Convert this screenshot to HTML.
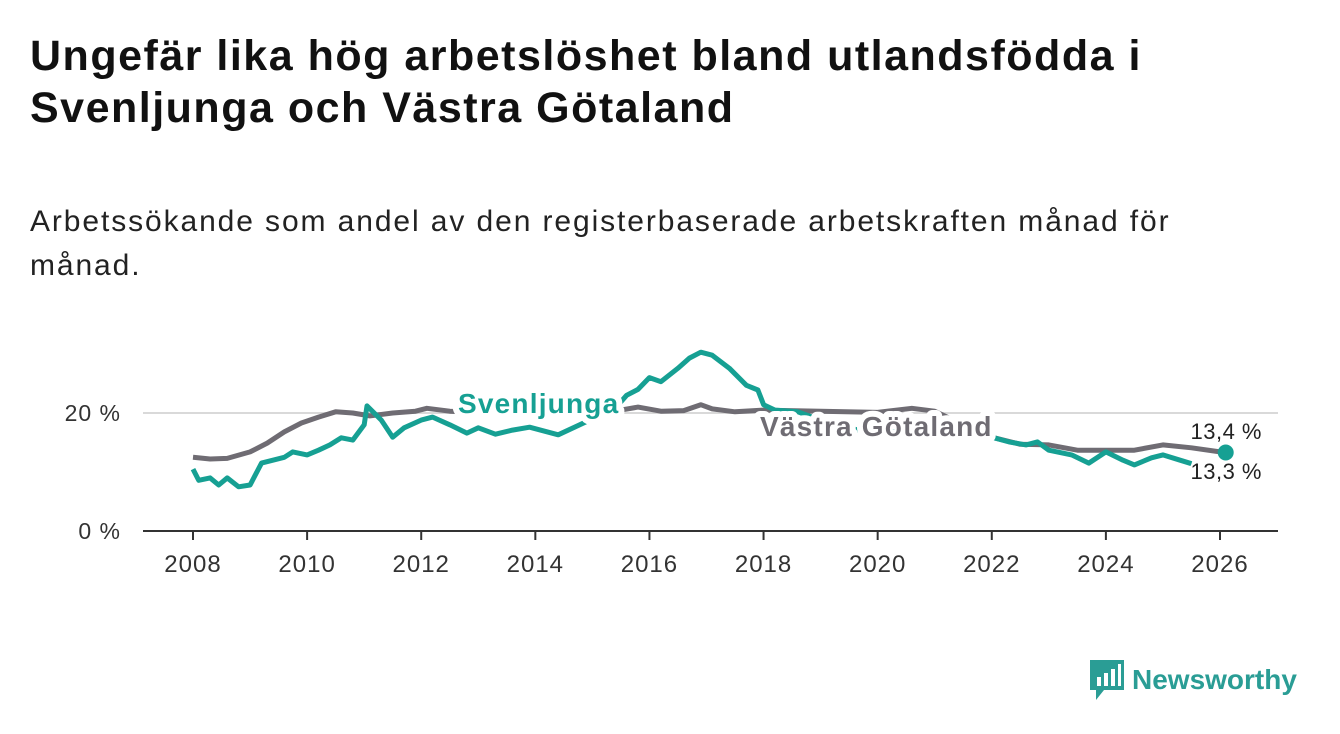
<!DOCTYPE html>
<html><head><meta charset="utf-8">
<style>
body{margin:0;background:#fff;width:1340px;height:734px;overflow:hidden;font-family:"Liberation Sans",sans-serif;}
h1{position:absolute;left:30px;top:30px;margin:0;font-size:43px;letter-spacing:1.5px;line-height:52px;font-weight:bold;color:#111;}
p.sub{position:absolute;left:30px;top:200px;margin:0;font-size:30px;letter-spacing:1.9px;line-height:44px;color:#222;}
svg{position:absolute;left:0;top:0;}
.logo{position:absolute;left:1090px;top:660px;display:flex;align-items:center;gap:8px;color:#2a9d95;font-size:28px;font-weight:bold;}
</style></head><body>
<h1>Ungefär lika hög arbetslöshet bland utlandsfödda i<br>Svenljunga och Västra Götaland</h1>
<p class="sub">Arbetssökande som andel av den registerbaserade arbetskraften månad för<br>månad.</p>
<svg id="chart" width="1340" height="734"></svg>
<div class="logo">
<svg width="34" height="40" style="position:static"><path d="M0 0H34V30H14L6 40V30H0Z" fill="#2a9d95"/><rect x="7" y="17" width="4" height="9" fill="#fff"/><rect x="14" y="13" width="4" height="13" fill="#fff"/><rect x="21" y="9" width="4" height="17" fill="#fff"/><rect x="28" y="4" width="3" height="22" fill="#fff"/></svg>
<span>Newsworthy</span></div>
<script>
const xTicks=[2008,2010,2012,2014,2016,2018,2020,2022,2024,2026];
const yTicks=[0,20];
const svenX=[2008.0,2008.1,2008.3,2008.45,2008.6,2008.8,2009.0,2009.2,2009.4,2009.6,2009.75,2010.0,2010.2,2010.4,2010.6,2010.8,2011.0,2011.05,2011.3,2011.5,2011.7,2012.0,2012.2,2012.5,2012.8,2013.0,2013.3,2013.6,2013.9,2014.4,2015.0,2015.4,2015.6,2015.8,2016.0,2016.2,2016.5,2016.7,2016.9,2017.1,2017.4,2017.7,2017.9,2018.0,2018.2,2018.6,2019.0,2019.5,2020.0,2020.5,2021.0,2021.5,2022.0,2022.3,2022.6,2022.8,2023.0,2023.4,2023.7,2024.0,2024.3,2024.5,2024.8,2025.0,2025.3,2025.5];
const svenY=[10.5,8.6,9,7.8,9,7.5,7.8,11.5,12,12.5,13.4,12.9,13.7,14.6,15.8,15.4,18,21.2,18.8,15.9,17.5,18.8,19.3,18,16.6,17.5,16.4,17.1,17.6,16.3,19,20.8,23,24,26,25.3,27.6,29.3,30.3,29.8,27.6,24.7,23.9,21.4,20.5,20.2,18.8,17.5,16.3,17.1,18,17,15.9,15.1,14.6,15.1,13.7,12.9,11.5,13.4,12,11.2,12.4,12.9,12,11.4];
const vgX=[2008.0,2008.3,2008.6,2009.0,2009.3,2009.6,2009.9,2010.2,2010.5,2010.8,2011.1,2011.5,2011.9,2012.1,2012.5,2013.0,2014.0,2015.0,2015.5,2015.8,2016.2,2016.6,2016.9,2017.1,2017.5,2018.0,2019.0,2020.0,2020.6,2021.0,2021.5,2022.0,2022.5,2023.0,2023.5,2024.0,2024.5,2025.0,2025.5,2026.0];
const vgY=[12.5,12.2,12.3,13.4,14.9,16.8,18.3,19.3,20.2,20.0,19.5,20.0,20.3,20.8,20.3,20.1,20.2,20.3,20.5,21,20.3,20.4,21.4,20.7,20.2,20.5,20.3,20.1,20.8,20.3,18,15.9,14.7,14.6,13.7,13.7,13.7,14.6,14.1,13.4];
const lastSven=[2026.1,13.3];
const X=v=>193+(v-2008)*(1220-193)/18;
const Y=v=>531-v*5.9;
const svg=document.getElementById('chart');
const NS='http://www.w3.org/2000/svg';
function mk(t,a){const e=document.createElementNS(NS,t);for(const k in a)e.setAttribute(k,a[k]);svg.appendChild(e);return e;}
yTicks.forEach(v=>{
 if(v>0){const g=mk('line',{x1:143,x2:1278,y1:Y(v),y2:Y(v),stroke:'#d9d9d9','stroke-width':2});
 
 }
 const t=mk('text',{x:121,y:Y(v)+8,'text-anchor':'end','font-size':23,'letter-spacing':1,fill:'#333'});t.textContent=v+' %';
 
 
});
const ax=mk('line',{x1:143,x2:1278,y1:531,y2:531,stroke:'#333','stroke-width':2});


xTicks.forEach(v=>{
 const l=mk('line',{x1:X(v),x2:X(v),y1:531,y2:540,stroke:'#333','stroke-width':2});
 
 
 const t=mk('text',{x:X(v),y:572,'text-anchor':'middle','font-size':24,'letter-spacing':1,fill:'#333'});t.textContent=v;
 
 
});
function line(xs,ys,c,name){
 const d=xs.map((x,i)=>(i?'L':'M')+X(x).toFixed(1)+' '+Y(ys[i]).toFixed(1)).join('');
 const p=mk('path',{d:d,fill:'none',stroke:c,'stroke-width':5,'stroke-linejoin':'round'});
 
 
}
line(vgX,vgY,'#6f6c73','line-vastra-gotaland');
line(svenX,svenY,'#16a093','line-svenljunga');
function lab(x,y,txt,c,size,w,name,anchor,ls,sw){
 const t=mk('text',{x:x,y:y,'font-size':size,'font-weight':w,'letter-spacing':ls,fill:c,stroke:'#fff','stroke-width':sw,'paint-order':'stroke','stroke-linejoin':'round','text-anchor':anchor||'start'});
 t.textContent=txt;
 
 
}
lab(458,413,'Svenljunga','#16a093',28,'bold','label-svenljunga','start',1.2,12);
lab(760,436,'Västra Götaland','#6f6c73',28,'bold','label-vastra-gotaland','start',1.2,12);
lab(1262,439,'13,4 %','#222',22,'normal','value-label-vastra','end',0.5,4);
lab(1262,479,'13,3 %','#222',22,'normal','value-label-svenljunga','end',0.5,4);
const dot=mk('circle',{cx:X(lastSven[0]),cy:Y(lastSven[1]),r:8,fill:'#16a093'});


</script>
</body></html>
